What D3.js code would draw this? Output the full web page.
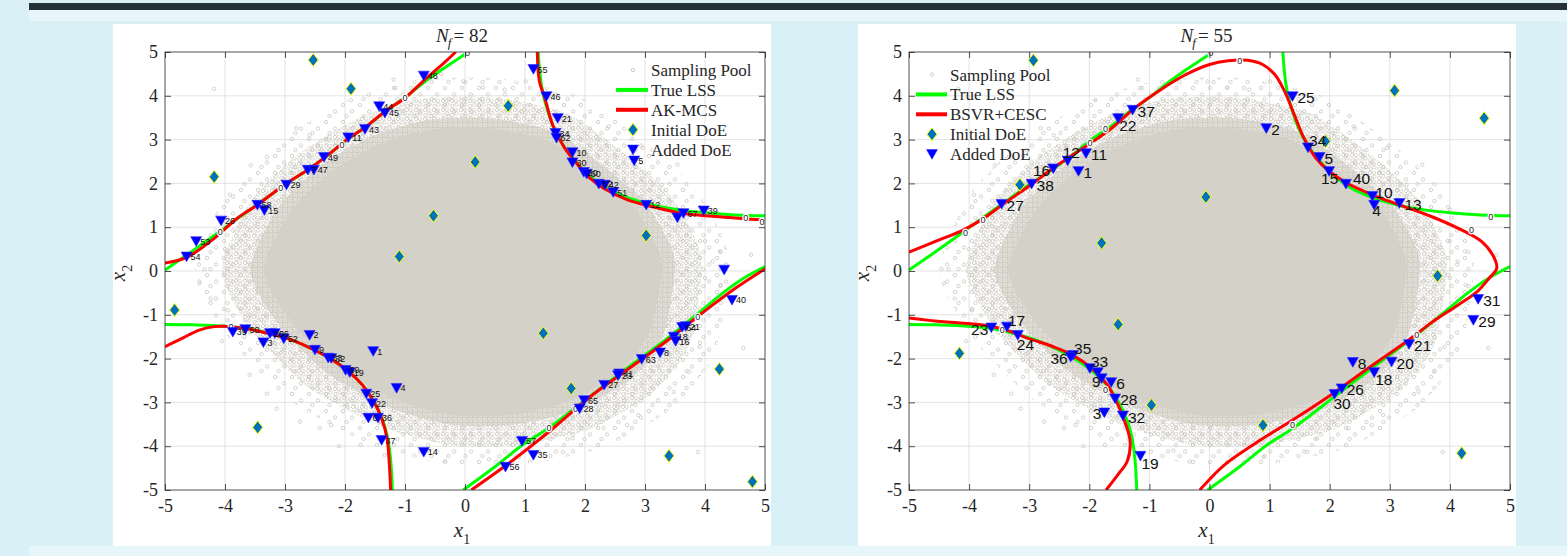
<!DOCTYPE html>
<html><head><meta charset="utf-8">
<script src="https://cdn.jsdelivr.net/npm/d3@7"></script>
<style>body{margin:0;background:#d9f1f6;}svg{display:block}</style>
</head><body>
<svg id="c" width="1567" height="556"></svg>
<script>
// ---------------- DATA ----------------
const xTicks = [-5,-4,-3,-2,-1,0,1,2,3,4,5];
const yTicks = [-5,-4,-3,-2,-1,0,1,2,3,4,5];
const xTickLabels = ["-5","-4","-3","-2","-1","0","1","2","3","4","5"];
const yTickLabels = ["-5","-4","-3","-2","-1","0","1","2","3","4","5"];
const titles = ["82","55"];
const legendLeft = ["Sampling Pool","True LSS","AK-MCS","Initial DoE","Added DoE"];
const legendRight = ["Sampling Pool","True LSS","BSVR+CESC","Initial DoE","Added DoE"];

// sampling pool: dense core outline, transition bands, scattered outliers
const poolCore = [[3.28,0],[3.2,0.55],[2.83,1.44],[2.2,2.2],[1.4,2.96],[0.43,3.26],[-0.56,3.23],[-1.45,2.88],[-2.29,2.2],[-2.94,1.29],[-3.35,0.03],[-2.94,-1.08],[-2.18,-2.15],[-1.19,-2.91],[-0.22,-3.29],[0.75,-3.29],[1.71,-2.98],[2.57,-2.3],[3.08,-1.38]];
const poolInner = [[3.5,0],[3.42,0.6],[3.02,1.53],[2.35,2.35],[1.5,3.16],[0.46,3.48],[-0.6,3.45],[-1.55,3.08],[-2.45,2.35],[-3.15,1.38],[-3.58,0.03],[-3.15,-1.15],[-2.33,-2.3],[-1.27,-3.11],[-0.23,-3.51],[0.8,-3.51],[1.83,-3.18],[2.75,-2.46],[3.3,-1.48]];
const poolMid = [[3.95,0],[3.85,0.7],[3.42,1.73],[2.67,2.67],[1.71,3.58],[0.53,3.95],[-0.69,3.93],[-1.76,3.5],[-2.78,2.67],[-3.58,1.57],[-4.05,0.03],[-3.58,-1.31],[-2.65,-2.62],[-1.44,-3.52],[-0.27,-3.97],[0.91,-3.97],[2.08,-3.61],[3.12,-2.78],[3.74,-1.68]];
const poolOuter = [[4.4,0],[4.3,0.77],[3.82,1.93],[2.97,2.97],[1.91,3.98],[0.58,4.4],[-0.76,4.37],[-1.96,3.9],[-3.1,2.97],[-3.98,1.75],[-4.5,0.04],[-3.98,-1.46],[-2.95,-2.92],[-1.59,-3.95],[-0.3,-4.4],[1.0,-4.4],[2.31,-4.03],[3.48,-3.1],[4.16,-1.88]];
const poolOutliers = [[-4.18,4.16],[-3.57,2.41],[-3.92,1.74],[-2.81,3.26],[-2.59,3.1],[-2.39,2.77],[-1.19,4.37],[-1.16,4.18],[-0.03,4.33],[0.3,4.19],[0.66,4.14],[1.01,4.33],[2.96,2.81],[3.54,2.43],[3.28,1.97],[4.25,0.45],[4.0,0.68],[4.13,0.22],[4.77,0.37],[-4.34,0.04],[-4.42,-0.28],[-4.24,-0.63],[-3.59,-2.37],[-2.42,-3.59],[-2.23,-3.52],[-1.74,-3.97],[-0.33,-4.35],[3.88,-4.13],[4.0,-0.16],[4.26,-0.32],[3.91,-1.73],[4.64,-1.76],[3.74,-2.3],[3.48,-2.76],[2.89,-3.29],[2.31,-3.59],[1.79,-3.82],[1.63,-4.13],[-1.34,-4.2],[-2.75,-3.44],[-3.14,-3.14],[2.7,-3.52],[-4.0,0.5],[-3.95,-0.9],[-0.6,-4.1],[0.4,-4.3],[0.9,-4.25],[-1.9,3.9],[-3.3,2.6],[4.0,1.4],[3.85,-1.0],[-4.05,-1.6],[-3.3,-2.8],[-0.4,4.5],[1.45,4.05],[-2.1,-4.0],[2.4,3.3]];

// true limit state surface (same in both panels)
const trueLSS = [
  [[-5,0.02],[-4.6,0.4],[-4.22,0.77],[-3.79,1.2],[-3.46,1.52],[-3.01,1.96],[-2.62,2.31],[-2.29,2.64],[-1.97,2.99],[-1.645,3.3],[-1.32,3.65],[-1.0,3.96],[-0.67,4.32],[-0.35,4.63],[0.0,4.95]],
  [[1.22,5.0],[1.25,4.5],[1.3,4.05],[1.38,3.65],[1.47,3.3],[1.63,2.88],[1.83,2.52],[2.05,2.2],[2.31,1.93],[2.7,1.68],[3.09,1.52],[3.6,1.39],[4.0,1.33],[4.5,1.28],[5.0,1.26]],
  [[-5,-1.22],[-4.5,-1.23],[-4.0,-1.26],[-3.6,-1.32],[-3.27,-1.42],[-2.94,-1.55],[-2.62,-1.73],[-2.29,-1.96],[-1.97,-2.26],[-1.71,-2.6],[-1.52,-2.98],[-1.38,-3.38],[-1.29,-3.8],[-1.24,-4.3],[-1.21,-5.0]],
  [[-0.03,-5.0],[0.5,-4.47],[0.95,-3.98],[1.41,-3.57],[2.06,-2.89],[2.7,-2.22],[3.35,-1.56],[3.9,-0.95],[4.3,-0.5],[4.65,-0.16],[5.0,0.1]]
];
// AK-MCS estimate (left)
const akmcs = [
  [[-5,0.18],[-4.64,0.31],[-4.21,0.71],[-3.79,1.21],[-3.46,1.51],[-3.01,1.97],[-2.62,2.31],[-2.29,2.64],[-1.97,3.0],[-1.645,3.3],[-1.32,3.66],[-1.0,3.95],[-0.67,4.37],[-0.35,4.75],[-0.155,5.0]],
  [[1.205,5.0],[1.24,4.33],[1.33,3.95],[1.46,3.34],[1.66,2.81],[1.855,2.47],[2.05,2.16],[2.31,1.89],[2.7,1.63],[3.09,1.48],[3.61,1.32],[4.125,1.25],[4.5,1.21],[5.0,1.16]],
  [[-5,-1.73],[-4.69,-1.52],[-4.43,-1.35],[-4.175,-1.27],[-3.92,-1.27],[-3.59,-1.33],[-3.27,-1.43],[-2.94,-1.55],[-2.62,-1.73],[-2.29,-1.96],[-1.97,-2.26],[-1.71,-2.6],[-1.52,-2.98],[-1.39,-3.36],[-1.3,-3.82],[-1.26,-4.43],[-1.24,-5.0]],
  [[0.105,-5.0],[0.69,-4.43],[1.4,-3.67],[2.05,-2.91],[2.7,-2.26],[3.35,-1.61],[3.98,-0.93],[4.5,-0.4],[5.0,0.05]]
];
// BSVR+CESC estimate (right)
const bsvr = [
  [[-5,0.43],[-4.55,0.68],[-4.09,0.94],[-3.77,1.19],[-3.45,1.51],[-2.93,2.01],[-2.6,2.35],[-2.35,2.58],[-2.02,2.88],[-1.63,3.26],[-1.245,3.72],[-0.855,4.1],[-0.4,4.48],[-0.01,4.71],[0.31,4.8],[0.635,4.81],[0.89,4.71],[1.09,4.48],[1.25,4.1],[1.41,3.57],[1.57,3.04],[1.77,2.58],[1.99,2.28],[2.285,2.01],[2.71,1.74],[3.16,1.51],[3.68,1.25],[4.13,0.98],[4.52,0.68],[4.71,0.37],[4.78,0.07],[4.65,-0.17],[4.455,-0.47],[4.13,-0.78],[3.68,-1.19],[3.35,-1.54],[2.71,-2.15],[2.06,-2.79],[1.41,-3.38],[0.765,-3.93],[0.245,-4.43],[-0.11,-4.92],[-0.16,-5.0]],
  [[-5,-1.07],[-4.42,-1.16],[-3.77,-1.23],[-3.38,-1.35],[-2.99,-1.55],[-2.6,-1.73],[-2.28,-1.92],[-1.96,-2.22],[-1.7,-2.6],[-1.52,-3.06],[-1.41,-3.44],[-1.32,-3.9],[-1.37,-4.35],[-1.53,-4.66],[-1.72,-5.0]]
];

const initLeft = [[-2.53,4.82],[-1.9,4.16],[0.72,3.77],[-4.18,2.15],[0.17,2.49],[-0.525,1.26],[3.02,0.81],[-1.095,0.33],[-4.84,-0.89],[1.305,-1.42],[4.24,-2.24],[1.77,-2.68],[-3.455,-3.57],[3.4,-4.22],[4.79,-4.81]];
const initRight = [[-2.93,4.81],[3.08,4.12],[4.57,3.49],[1.93,2.96],[-3.155,1.97],[-0.06,1.69],[-1.795,0.64],[3.795,-0.11],[-1.52,-1.22],[-4.16,-1.88],[-0.966,-3.06],[0.89,-3.52],[4.195,-4.16]];

const addedLeft = [
 [-0.687,4.46,"48"],[-1.43,3.76,"44"],[-1.335,3.61,"45"],[-1.667,3.24,"43"],[-1.945,3.05,"11"],[-2.35,2.6,"49"],[-2.62,2.31,"7"],[-2.52,2.31,"47"],[-2.975,1.97,"29"],[-3.46,1.51,"58"],[-3.345,1.39,"15"],[-4.065,1.15,"26"],[-4.48,0.68,"53"],[-4.64,0.33,"54"],
 [1.14,4.61,"55"],[1.357,3.99,"46"],[1.545,3.49,"21"],[1.51,3.15,"34"],[1.525,3.04,"62"],[1.79,2.71,"10"],[1.79,2.48,"30"],[1.98,2.26,"20"],[2.03,2.22,"60"],[2.23,1.99,"52"],[2.33,1.97,"42"],[2.47,1.8,"51"],[3.02,1.51,"12"],[3.54,1.22,""],[3.64,1.32,"67"],[3.98,1.38,"39"],[2.82,2.52,"5"],[4.32,0.03,""],
 [4.45,-0.66,"40"],[3.62,-1.28,"64"],[3.68,-1.26,"21"],[3.48,-1.5,"18"],[3.51,-1.6,"16"],[3.25,-1.86,"8"],[2.945,-2.01,"63"],[2.57,-2.34,"41"],[2.55,-2.38,"23"],[2.32,-2.6,"27"],[1.985,-2.95,"65"],[1.91,-3.14,"28"],[0.95,-3.88,"57"],[1.14,-4.2,"35"],[0.675,-4.47,"56"],
 [-0.687,-4.13,"14"],[-1.39,-3.86,"37"],[-1.61,-3.35,"6"],[-1.45,-3.35,"36"],[-1.55,-3.02,"22"],[-1.645,-2.8,"25"],[-1.14,-2.67,"4"],[-1.53,-1.83,"1"],[-1.99,-2.26,"59"],[-1.92,-2.31,"19"],[-2.28,-1.98,"33"],[-2.23,-1.99,"32"],[-2.5,-1.8,"9"],[-2.59,-1.46,"2"],[-3.02,-1.54,"52"],[-3.25,-1.42,"20"],[-3.17,-1.42,"66"],[-3.36,-1.63,"3"],[-3.66,-1.33,"50"],[-3.87,-1.39,"39"]
];
const addedRight = [
 [-1.28,3.68,"37"],[1.38,3.99,"25"],[-1.52,3.49,"22"],[0.945,3.26,"2"],[1.64,2.82,"34"],[1.83,2.6,"5"],[-2.36,2.52,"12"],[-2.055,2.69,"11"],[-2.6,2.34,"16"],[-2.18,2.28,"1"],[-2.96,1.99,"38"],[-3.46,1.53,"27"],[1.99,2.28,"15"],[2.27,1.99,"40"],[2.71,1.71,"10"],[2.74,1.51,"4"],[3.16,1.55,"13"],
 [4.47,-0.64,"31"],[4.39,-1.12,"29"],[3.32,-1.67,"21"],[2.385,-2.08,"8"],[3.03,-2.07,"20"],[2.74,-2.31,"18"],[2.2,-2.68,"26"],[2.08,-2.81,"30"],
 [-3.63,-1.29,"23"],[-3.37,-1.27,"17"],[-3.19,-1.46,"24"],[-2.27,-1.92,"35"],[-2.31,-1.96,"36"],[-1.99,-2.22,"33"],[-1.86,-2.31,""],[-1.795,-2.45,"9"],[-1.635,-2.54,"6"],[-1.57,-2.91,"28"],[-1.75,-3.23,"3"],[-1.44,-3.3,"32"],[-1.15,-4.22,"19"]
];
const zerosLeft = [[0.04,4.98],[-1.0,3.95],[-3.07,1.9],[-4.08,0.89],[-2.05,2.88],[4.68,1.21],[4.95,1.11],[3.88,-1.04],[1.4,-3.58],[1.84,-3.14],[-3.9,-1.27]];
const zerosRight = [[0.02,4.98],[0.505,4.8],[-1.73,3.24],[-1.99,2.92],[4.68,1.23],[4.36,0.94],[-3.77,1.17],[-4.06,0.87],[-3.45,-1.35],[1.38,-3.52],[3.45,-1.46],[-1.73,-2.72]];

// ---------------- LAYOUT / STYLE ----------------
const placeRight = {"25":"r","37":"r","22":"br","2":"r","34":"ar","5":"r","12":"tl","11":"r","16":"l","1":"r","38":"r","27":"r","15":"bl","40":"ar7","10":"ar3","4":"bc","13":"r","31":"r","29":"r","21":"r","8":"r","20":"r","18":"br","26":"r","30":"b","23":"l","17":"ar","24":"b","35":"ar","36":"l","33":"ar","9":"l9","6":"r","28":"r","3":"l","32":"r","19":"br"};
const placeCodes = {r:[5,7,"start"],l:[-3,7,"end"],ar:[1,-1,"start"],ar7:[7,0,"start"],ar3:[3,2,"start"],br:[1,13,"start"],b:[-1,15,"start"],bl:[-8,13,"start"],tl:[-5,-3,"start"],bc:[-2,11,"start"],l9:[-1,9,"end"]};

const SERIF = "'Liberation Serif','Times New Roman',serif";
const SANS = "'Liberation Sans',Arial,sans-serif";
const AX = "#262626";
const RING = "#c4c0b6";

const W=1567,H=556;
const svg = d3.select("#c");
svg.append("rect").attr("width",W).attr("height",H).attr("fill","#d9f1f6");
svg.append("rect").attr("x",29).attr("y",3).attr("width",W-29).attr("height",7).attr("fill","#263238");
svg.append("rect").attr("x",29).attr("y",10).attr("width",W-29).attr("height",11).attr("fill","#e7f6fa");
svg.append("rect").attr("x",29).attr("y",546).attr("width",W-29).attr("height",10).attr("fill","#e7f6fa");

const defs = svg.append("defs");
function ringPattern(id,size,bg,pts){
  const p=defs.append("pattern").attr("id",id).attr("patternUnits","userSpaceOnUse").attr("width",size).attr("height",size);
  if(bg) p.append("rect").attr("width",size).attr("height",size).attr("fill",bg);
  pts.forEach(c=>p.append("circle").attr("cx",c[0]).attr("cy",c[1]).attr("r",1.7).attr("fill","none").attr("stroke",RING).attr("stroke-width",0.7));
}
ringPattern("pInner",5,"#e3e0d9",[[1.3,1.3],[3.8,3.6]]);
ringPattern("pMid",9,null,[[2,2],[6.5,5.5],[5.8,1.6],[2.5,7]]);
ringPattern("pOuter",17,null,[[3,3],[12,9.5],[6.5,14]]);

const panels = [
  {box:[113,24,771,546], plot:[165,52,765,490], nf:titles[0], est:akmcs, init:initLeft, added:addedLeft, zeros:zerosLeft, small:true, legend:legendLeft, lg:{mx:633,lx0:616,lx1:648,tx:651,y0:70,dy:19.9}},
  {box:[858,24,1516,546], plot:[909,52,1510,490], nf:titles[1], est:bsvr, init:initRight, added:addedRight, zeros:zerosRight, small:false, legend:legendRight, lg:{mx:932,lx0:916,lx1:947,tx:950,y0:74.5,dy:19.9}}
];

const diamondPath = "M0,-6.5L5,0L0,6.5L-5,0Z";
const triPath = "M-5.5,-4.5L5.5,-4.5L0,5.2Z";

panels.forEach((P,pi)=>{
  const [bx0,by0,bx1,by1]=P.box, [px0,py0,px1,py1]=P.plot;
  svg.append("rect").attr("x",bx0).attr("y",by0).attr("width",bx1-bx0).attr("height",by1-by0).attr("fill","#fff");
  const x=d3.scaleLinear().domain([-5,5]).range([px0,px1]);
  const y=d3.scaleLinear().domain([-5,5]).range([py1,py0]);
  const g=svg.append("g");
  defs.append("clipPath").attr("id","clip"+pi).append("rect").attr("x",px0).attr("y",py0).attr("width",px1-px0).attr("height",py1-py0);

  // grid
  g.append("g").selectAll("line").data(xTicks.slice(1,-1)).join("line")
    .attr("x1",d=>x(d)).attr("x2",d=>x(d)).attr("y1",py0).attr("y2",py1).attr("stroke","#e0e0e0").attr("stroke-width",0.9);
  g.append("g").selectAll("line").data(yTicks.slice(1,-1)).join("line")
    .attr("y1",d=>y(d)).attr("y2",d=>y(d)).attr("x1",px0).attr("x2",px1).attr("stroke","#e0e0e0").attr("stroke-width",0.9);

  const pg=g.append("g").attr("clip-path",`url(#clip${pi})`);
  const poly=d3.line().x(d=>x(d[0])).y(d=>y(d[1])).curve(d3.curveCardinalClosed.tension(0.3));
  pg.append("path").attr("d",poly(poolOuter)).attr("fill","url(#pOuter)");
  pg.append("path").attr("d",poly(poolMid)).attr("fill","url(#pMid)");
  pg.append("path").attr("d",poly(poolInner)).attr("fill","url(#pInner)");
  pg.append("path").attr("d",poly(poolCore)).attr("fill","#d4d1c8");
  pg.append("g").selectAll("circle").data(poolOutliers).join("circle")
    .attr("cx",d=>x(d[0])).attr("cy",d=>y(d[1])).attr("r",1.7).attr("fill","none").attr("stroke",RING).attr("stroke-width",0.7);

  const ln=d3.line().x(d=>x(d[0])).y(d=>y(d[1])).curve(d3.curveCatmullRom.alpha(0.5));
  pg.append("g").selectAll("path").data(trueLSS).join("path").attr("d",ln).attr("fill","none").attr("stroke","#00ff00").attr("stroke-width",3);
  pg.append("g").selectAll("path").data(P.est).join("path").attr("d",ln).attr("fill","none").attr("stroke","#ff0000").attr("stroke-width",3);

  pg.append("g").selectAll("text").data(P.zeros).join("text")
    .attr("x",d=>x(d[0])).attr("y",d=>y(d[1])+3).attr("text-anchor","middle")
    .attr("font-family",SANS).attr("font-size",9).attr("fill","#222")
    .attr("stroke","#fff").attr("stroke-width",2.5).attr("paint-order","stroke").text("0");

  // initial DoE
  g.append("g").selectAll("path").data(P.init).join("path")
    .attr("transform",d=>`translate(${x(d[0])},${y(d[1])})`).attr("d",diamondPath)
    .attr("fill","#0072bd").attr("stroke","#ffff00").attr("stroke-width",1);
  // added DoE
  g.append("g").selectAll("path").data(P.added).join("path")
    .attr("transform",d=>`translate(${x(d[0])},${y(d[1])})`).attr("d",triPath)
    .attr("fill","#0000ff").attr("stroke","#2a2aff").attr("stroke-width",0.6);
  const labs=g.append("g").selectAll("text").data(P.added.filter(d=>d[2]!=="")).join("text").text(d=>d[2]).attr("font-family",SANS).attr("fill","#111");
  if(P.small){
    labs.attr("font-size",9).attr("x",d=>x(d[0])+4).attr("y",d=>y(d[1])+3.5);
  } else {
    labs.attr("font-size",15.5)
      .attr("x",d=>x(d[0])+placeCodes[placeRight[d[2]]||"r"][0])
      .attr("y",d=>y(d[1])+placeCodes[placeRight[d[2]]||"r"][1])
      .attr("text-anchor",d=>placeCodes[placeRight[d[2]]||"r"][2]);
  }

  // axes (ticks inward on all sides)
  const styleAxis=s=>{s.select(".domain").remove();s.selectAll(".tick line").attr("stroke",AX).attr("stroke-width",0.8);
    s.selectAll("text").attr("font-family",SERIF).attr("font-size",18).attr("fill",AX);};
  g.append("g").attr("transform",`translate(0,${py1})`)
    .call(d3.axisBottom(x).tickValues(xTicks).tickFormat((d,i)=>xTickLabels[i]).tickSize(-6).tickPadding(9)).call(styleAxis);
  g.append("g").attr("transform",`translate(${px0},0)`)
    .call(d3.axisLeft(y).tickValues(yTicks).tickFormat((d,i)=>yTickLabels[i]).tickSize(-6).tickPadding(7)).call(styleAxis);
  g.append("g").attr("transform",`translate(0,${py0})`)
    .call(d3.axisTop(x).tickValues(xTicks).tickFormat("").tickSize(-6)).call(styleAxis);
  g.append("g").attr("transform",`translate(${px1},0)`)
    .call(d3.axisRight(y).tickValues(yTicks).tickFormat("").tickSize(-6)).call(styleAxis);
  g.append("rect").attr("x",px0).attr("y",py0).attr("width",px1-px0).attr("height",py1-py0)
    .attr("fill","none").attr("stroke",AX).attr("stroke-width",0.8);

  // axis labels
  const cx=(px0+px1)/2;
  const xl=g.append("text").attr("x",cx-3).attr("y",537).attr("text-anchor","middle").attr("font-family",SERIF).attr("fill",AX).attr("font-size",21);
  xl.append("tspan").attr("font-style","italic").text("x");
  xl.append("tspan").attr("font-size",14).attr("dy",7).text("1");
  const yl=g.append("text").attr("transform",`translate(${px0-40},${(py0+py1)/2+2}) rotate(-90)`).attr("text-anchor","middle").attr("font-family",SERIF).attr("fill",AX).attr("font-size",21);
  yl.append("tspan").attr("font-style","italic").text("x");
  yl.append("tspan").attr("font-size",14).attr("dy",7).text("2");
  // title
  const tt=g.append("text").attr("x",cx-3).attr("y",42).attr("text-anchor","middle").attr("font-family",SERIF).attr("fill",AX).attr("font-size",19);
  tt.append("tspan").attr("font-style","italic").text("N");
  tt.append("tspan").attr("font-style","italic").attr("font-size",13).attr("dy",5).attr("dx",-1).text("f");
  tt.append("tspan").attr("dy",-5).attr("dx",2).text("= "+P.nf);

  // legend
  const L=P.lg, lg=g.append("g");
  P.legend.forEach((name,i)=>{
    const yy=L.y0+i*L.dy;
    if(i===0) lg.append("circle").attr("cx",L.mx).attr("cy",yy).attr("r",1.7).attr("fill","none").attr("stroke",RING).attr("stroke-width",0.8);
    if(i===1||i===2) lg.append("line").attr("x1",L.lx0).attr("x2",L.lx1).attr("y1",yy).attr("y2",yy).attr("stroke",i===1?"#00ff00":"#ff0000").attr("stroke-width",4);
    if(i===3) lg.append("path").attr("transform",`translate(${L.mx},${yy})`).attr("d",diamondPath).attr("fill","#0072bd").attr("stroke","#ffff00").attr("stroke-width",1);
    if(i===4) lg.append("path").attr("transform",`translate(${L.mx},${yy})`).attr("d",triPath).attr("fill","#0000ff").attr("stroke","#2a2aff").attr("stroke-width",0.6);
    lg.append("text").attr("x",L.tx).attr("y",yy+6).attr("font-family",SERIF).attr("font-size",17).attr("fill",AX).text(name);
  });
});
</script>
</body></html>
